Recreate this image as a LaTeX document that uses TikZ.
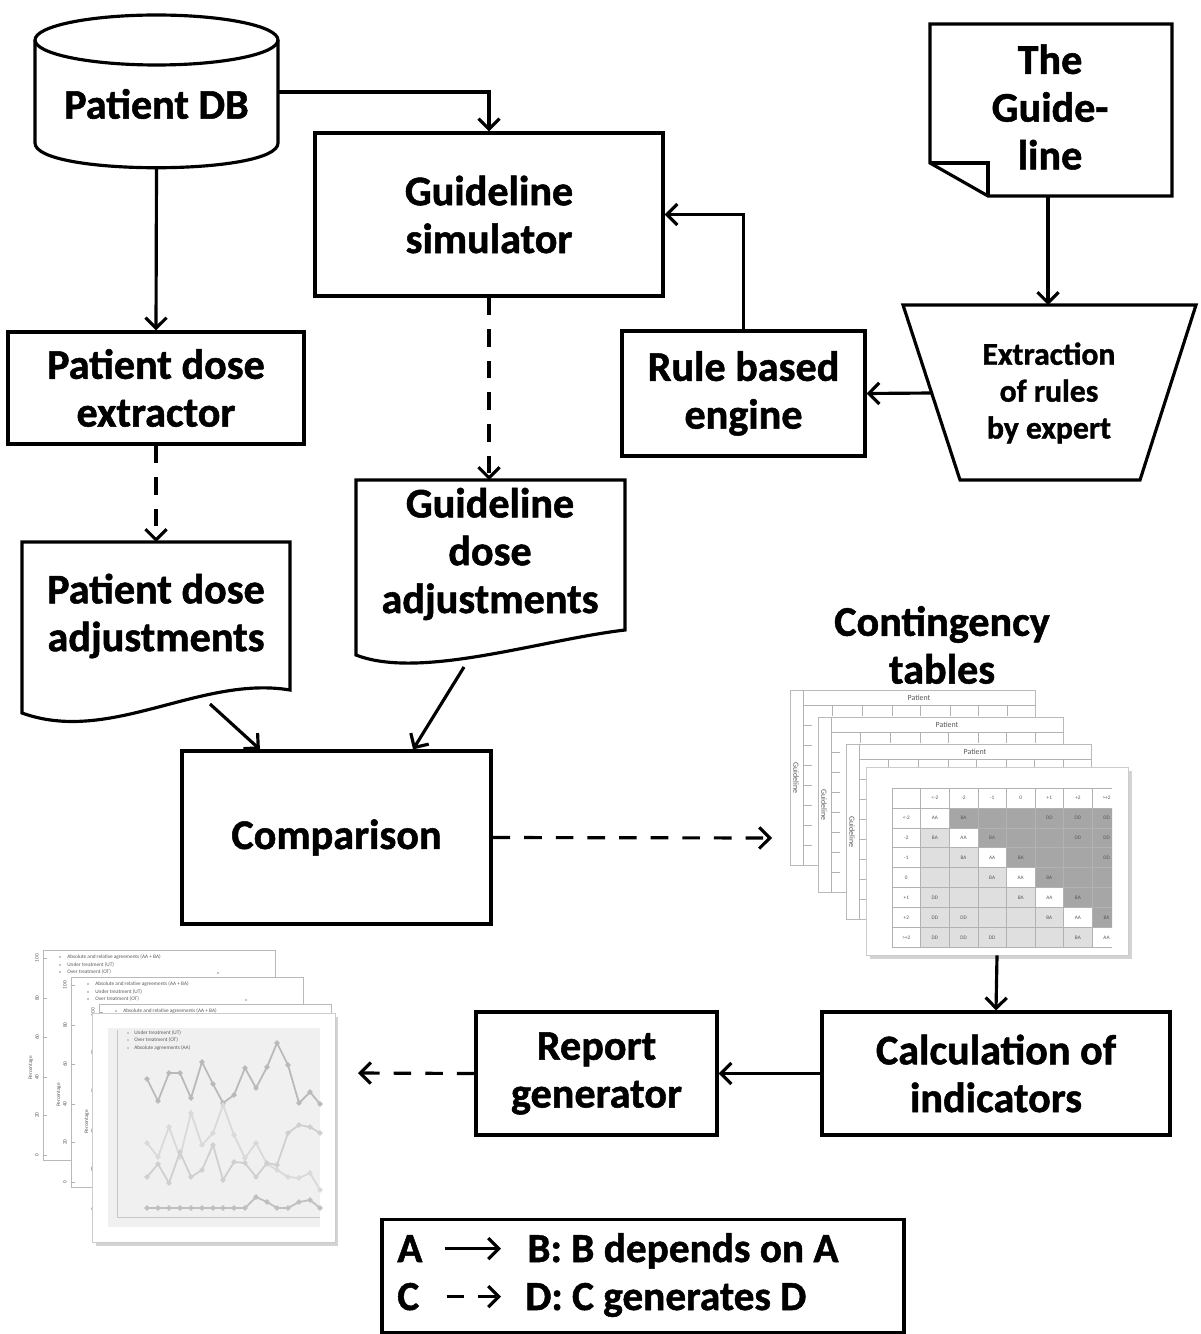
\documentclass[tikz,border=0pt]{standalone}
\usepackage{fontspec}
\setmainfont{Carlito}[BoldFeatures={FakeBold=1.2}]
\usetikzlibrary{arrows.meta,shadows}

\newcommand{\labelfont}{\fontsize{24}{27.2}\selectfont\bfseries}
\newcommand{\legendfont}{\fontsize{23.5}{25}\selectfont\bfseries}
\newcommand{\rulefont}{\fontsize{18}{21}\selectfont\bfseries}

\tikzset{
  box/.style={draw, line width=1.8pt, fill=white, align=center, font=\labelfont, inner sep=0pt},
  lbl/.style={align=center, font=\labelfont, inner sep=0pt},
  shape line/.style={draw, line width=1.8pt, fill=white},
  arr/.style={line width=1.8pt, -{Straight Barb[length=6pt,width=12pt]}},
  gen/.style={arr, dash pattern=on 10pt off 8pt},
  sheet/.style={draw=gray!55, line width=0.4pt, fill=white},
  thin line/.style={draw=gray!60, line width=0.3pt},
  tiny/.style={font=\fontsize{3}{3.5}\selectfont, inner sep=0pt, text=gray!70!black},
  small/.style={font=\fontsize{4.5}{5}\selectfont, inner sep=0pt, text=gray!70!black},
}

\begin{document}
\begin{tikzpicture}[x=0.02cm, y=-0.02cm]
  \useasboundingbox (0,0) rectangle (1200,1334);

  % patient database
  \draw[shape line] (35,40) -- (35,143) .. controls (35,176) and (278,176) .. (278,143) -- (278,40);
  \draw[line width=1.8pt] (156.5,40) ellipse [x radius=2.43cm, y radius=0.5cm];
  \node (db) [lbl] at (156.5,104) {Patient DB};
  \coordinate (db-e) at (278,92);
  \coordinate (db-s) at (156.5,168);

  % the guideline document
  \draw[shape line] (930,24) -- (1172,24) -- (1172,196) -- (988,196) -- (930,163) -- cycle;
  \draw[line width=1.8pt] (930,163) -- (988,163) -- (988,196);
  \node (guide) [lbl] at (1050,107) {The\\Guide-\\line};
  \coordinate (guide-s) at (1048,196);

  % extraction of rules
  \draw[shape line] (903,305) -- (1196,305) -- (1140,480) -- (960,480) -- cycle;
  \node (extract) [lbl, font=\rulefont] at (1049,393) {Extraction\\of rules\\by expert};
  \coordinate (extract-n) at (1048,305);
  \coordinate (extract-w) at (932,393);

  % boxes
  \node (sim) [box, minimum width=6.96cm, minimum height=3.26cm] at (489,214.5) {Guideline\\simulator};
  \node (rule) [box, minimum width=4.86cm, minimum height=2.5cm] at (743.5,393.5) {Rule based\\engine};
  \node (extr) [box, minimum width=5.92cm, minimum height=2.24cm] at (156,388) {Patient dose\\extractor};
  \node (comp) [box, minimum width=6.18cm, minimum height=3.46cm] at (336.5,837.5) {Comparison};
  \node (calc) [box, minimum width=6.96cm, minimum height=2.46cm] at (996,1073.5) {Calculation of\\indicators};
  \node (rep) [box, minimum width=4.82cm, minimum height=2.46cm] at (596.5,1073.5) {Report\\generator};

  % dose adjustment documents
  \draw[shape line] (22,542) -- (290,542) -- (290,690) .. controls (200,675) and (110,745) .. (22,713) -- cycle;
  \node (pdoc) [lbl] at (156,616) {Patient dose\\adjustments};
  \coordinate (pdoc-n) at (156,542);
  \coordinate (pdoc-s) at (210,704);

  \draw[shape line] (356,480) -- (625,480) -- (625,630) .. controls (540,640) and (420,680) .. (356,655) -- cycle;
  \node (gdoc) [lbl] at (490,554) {Guideline\\dose\\adjustments};
  \coordinate (gdoc-n) at (489,480);
  \coordinate (gdoc-s) at (464,667);

  % contingency tables
  \node (ctlabel) [lbl] at (942,645) {Contingency\\tables};
  \foreach \k in {0,1,2} {
    \begin{scope}[shift={({28*\k},{27*\k})}]
      \draw[sheet] (790,690) rectangle (1035,865);
      \draw[thin line] (803,690) -- (803,865);
      \draw[thin line] (803,705) -- (1035,705);
      \foreach \x in {832,862,892,920,950,978,1007} \draw[thin line] (\x,705) -- (\x,716);
      \foreach \y in {725,745,...,845} \draw[thin line] (803,\y) -- (812,\y);
      \node[small] at (919,697.5) {Patient};
      \node[small, rotate=-90] at (796,778) {Guideline};
    \end{scope}
  }
  \node (tab) [sheet, draw=gray!40, drop shadow={shadow xshift=2pt, shadow yshift=-2pt, opacity=0.35},
    minimum width=5.24cm, minimum height=3.76cm] at (997,861) {};
  \begin{scope}
    \clip (892,788) rectangle (1112,947);
    \foreach \i in {1,...,7} \foreach \j in {1,...,7} {
      \pgfmathtruncatemacro\d{abs(\i-\j)}
      \ifnum\i=\j \def\cellc{white}\else\ifnum\j>\i \def\cellc{gray!70}\else \def\cellc{gray!25}\fi\fi
      \ifcase\d \def\cellt{AA}\or \def\cellt{BA}\or \def\cellt{}\or \def\cellt{}\else \def\cellt{DD}\fi
      \fill[\cellc] ({892+28.6*\j},{808+19.9*(\i-1)}) rectangle +(28.6,19.9);
      \node[tiny] at ({906.3+28.6*\j},{818+19.9*(\i-1)}) {\cellt};
    }
    \foreach \h [count=\j] in {<-2,-2,-1,0,+1,+2,>+2} {
      \node[tiny] at ({906.3+28.6*\j},798) {\h};
      \node[tiny] at (906.3,{818+19.9*(\j-1)}) {\h};
    }
    \foreach \j in {0,...,8} \draw[thin line] ({892+28.6*\j},788) -- ({892+28.6*\j},948);
    \foreach \i in {0,...,8} \draw[thin line] (892,{788+19.9*\i}) -- (1112,{788+19.9*\i});
  \end{scope}
  \coordinate (tab-in) at (772,838);

  % report charts
  \foreach \k in {0,1,2} {
    \begin{scope}[shift={({28*\k},{27*\k})}]
      \draw[sheet] (43,950) rectangle (275,1160);
      \foreach \y/\v in {958/100,998/80,1037/60,1077/40,1115/20,1155/0} {
        \draw[thin line] (43,\y) -- (47,\y);
        \node[tiny, rotate=90] at (37,\y) {\v};
      }
      \node[tiny, rotate=90] at (31,1068) {Percentage};
      \foreach \y/\t in {957/{Absolute and relative agreements (AA + BA)},965/{Under treatment (UT)},972/{Over treatment (OT)}} {
        \fill[gray!60] (60,\y) circle (0.6pt);
        \node[tiny, anchor=west] at (67,\y) {\t};
      }
      \fill[gray!60] (218,973) circle (0.7pt);
    \end{scope}
  }
  \node (chart) [sheet, draw=gray!40, drop shadow={shadow xshift=2pt, shadow yshift=-2pt, opacity=0.35},
    minimum width=4.86cm, minimum height=4.58cm] at (213.5,1127.5) {};
  \fill[gray!12] (108,1028) rectangle (320,1227);
  \draw[gray!45, line width=0.4pt] (117,1030) -- (117,1217) -- (320,1217);
  \foreach \y/\t in {1033/{Under treatment (UT)},1040/{Over treatment (OT)},1048/{Absolute agreements (AA)}} {
    \fill[gray!50] (128,\y) circle (0.6pt);
    \node[tiny, anchor=west] at (134,\y) {\t};
  }
  \draw[gray!55, line width=1pt] plot[mark=*, mark size=0.9pt] coordinates {(147,1079) (158,1101) (169,1073) (180,1073) (191,1098) (202,1062) (213,1084) (223,1103) (234,1095) (245,1068) (256,1088) (267,1067) (277,1043) (288,1065) (299,1103) (310,1092) (320,1104)};
  \draw[gray!30, line width=1pt] plot[mark=*, mark size=0.9pt] coordinates {(147,1143) (158,1157) (169,1127) (180,1157) (191,1113) (202,1145) (213,1133) (223,1105) (234,1135) (245,1158) (256,1143) (267,1164) (277,1170) (288,1177) (299,1178) (310,1173) (320,1190)};
  \draw[gray!38, line width=1pt] plot[mark=*, mark size=0.9pt] coordinates {(147,1177) (158,1164) (169,1183) (180,1152) (191,1177) (202,1170) (213,1145) (223,1180) (234,1162) (245,1163) (256,1177) (267,1163) (277,1165) (288,1133) (299,1125) (310,1127) (320,1133)};
  \draw[gray!50, line width=1pt] plot[mark=*, mark size=0.9pt] coordinates {(147,1208) (158,1208) (169,1208) (180,1208) (191,1208) (202,1208) (213,1208) (223,1208) (234,1208) (245,1208) (256,1197) (267,1202) (277,1208) (288,1208) (299,1202) (310,1200) (320,1208)};
  \coordinate (chart-in) at (358,1073);

  % connectors
  \draw[arr] (db-e) -| (sim.north);
  \draw[arr] (db-s) -- (extr.north);
  \draw[arr] (guide-s) -- (extract-n);
  \draw[arr] (extract-w) -- (rule.east);
  \draw[arr] (rule.north) |- (sim.east);
  \draw[gen] (sim.south) -- (gdoc-n);
  \draw[gen] (extr.south) -- (pdoc-n);
  \draw[arr] (pdoc-s) -- (comp.131);
  \draw[arr] (gdoc-s) -- (comp.49);
  \draw[gen] (comp.east) -- (tab-in);
  \draw[arr] (tab.south) -- (calc.north);
  \draw[arr] (calc.west) -- (rep.east);
  \draw[gen] (rep.west) -- (chart-in);

  % legend
  \node (legend) [box, minimum width=10.44cm, minimum height=2.26cm] at (643,1276) {};
  \node (la) [lbl, font=\legendfont, anchor=base west] at (397,1262) {A};
  \node (lb) [lbl, font=\legendfont, anchor=base west] at (527,1262) {B: B depends on A};
  \node (lc) [lbl, font=\legendfont, anchor=base west] at (397,1310) {C};
  \node (ld) [lbl, font=\legendfont, anchor=base west] at (525,1310) {D: C generates D};
  \draw[arr, shorten <=0.44cm, shorten >=0.52cm] (la.east) -- (la.east -| lb.west);
  \draw[gen, shorten <=0.54cm, shorten >=0.48cm] (lc.east) -- (lc.east -| ld.west);
\end{tikzpicture}
\end{document}
